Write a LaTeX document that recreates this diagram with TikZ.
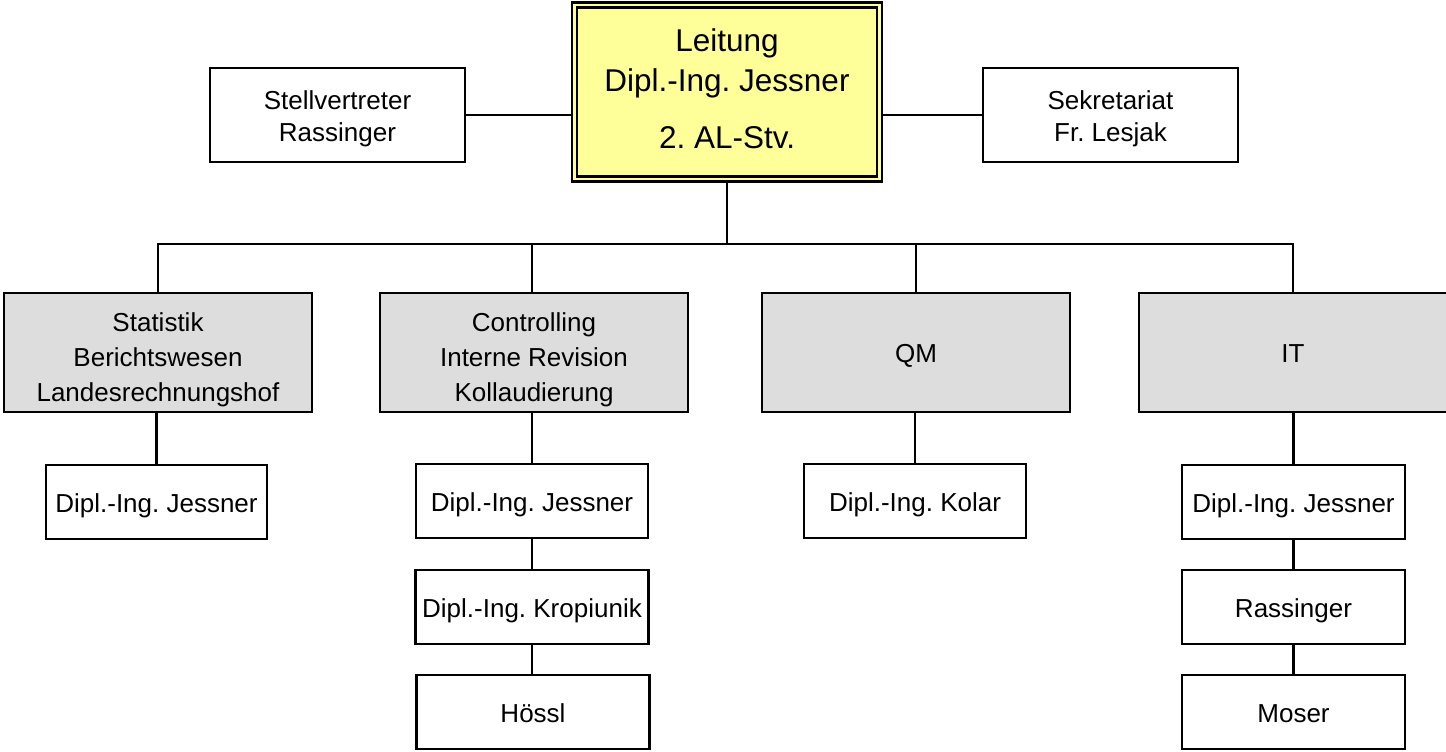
\documentclass[tikz,border=0pt]{standalone}
\usepackage{fontspec}
\setmainfont{Liberation Sans}
\frenchspacing
\definecolor{lgray}{HTML}{DDDDDD}
\definecolor{lyellow}{HTML}{FFFF99}
\begin{document}
\begin{tikzpicture}[x=1pt,y=-1pt,
  box/.style={draw=black, line width=2.7pt, fill=white, align=center, inner sep=0pt,
    font=\fontsize{26}{35}\selectfont, text height=24pt, text depth=4pt},
  txt/.style={align=center, inner sep=0pt, font=\fontsize{26}{35}\selectfont},
  unit/.style={box, fill=lgray, minimum width=308pt, minimum height=119pt},
  pers/.style={box, minimum height=74pt},
  side/.style={box, minimum width=255pt, minimum height=94pt},
  topbox/.style={draw=black, line width=2.7pt, double=lyellow, double distance=2.3pt,
    fill=lyellow, minimum width=305pt, minimum height=174pt},
  conn/.style={line width=2.7pt}]
\useasboundingbox (0,0) rectangle (1446,752);
\fill[white] (0,0) rectangle (1446,752);

\node[topbox, label={[txt, font=\fontsize{31.5}{40}\selectfont, yshift=3pt]center:{Leitung\\Dipl.-Ing. Jessner\\[17pt]2. AL-Stv.}}] (top) at (727,92) {};
\node[side, label={[txt, font=\fontsize{26}{32.5}\selectfont, yshift=-4pt]center:{Stellvertreter\\Rassinger}}] (stell) at (337.5,115) {};
\node[side, label={[txt, font=\fontsize{26}{32.5}\selectfont, yshift=-4pt]center:{Sekretariat\\Fr. Lesjak}}] (sek) at (1110.5,115) {};

\node[unit, label={[txt, yshift=-7pt]center:{Statistik\\Berichtswesen\\Landesrechnungshof}}] (stat) at (158,352.5) {};
\node[unit, label={[txt, yshift=-7pt]center:{Controlling\\Interne Revision\\Kollaudierung}}] (ctrl) at (534,352.5) {};
\node[unit] (qm) at (916,352.5) {QM};
\node[unit] (it) at (1293,352.5) {IT};

\node[pers, minimum width=221pt] (sj) at (156.5,502) {Dipl.-Ing. Jessner};
\node[pers, minimum width=232pt] (cj) at (532,501) {Dipl.-Ing. Jessner};
\node[pers, minimum width=233pt] (ck) at (532,607) {Dipl.-Ing. Kropiunik};
\node[pers, minimum width=233pt] (ch) at (533,712) {Hössl};
\node[pers, minimum width=222pt] (qk) at (915,501) {Dipl.-Ing. Kolar};
\node[pers, minimum width=223pt] (ij) at (1293.5,502) {Dipl.-Ing. Jessner};
\node[pers, minimum width=223pt] (ir) at (1293.5,607) {Rassinger};
\node[pers, minimum width=223pt] (im) at (1293.5,712) {Moser};

\coordinate (bus) at (727,244);

\draw[conn] (stell.east) -- (stell.east -| top.west);
\draw[conn] (sek.west) -- (sek.west -| top.east);
\draw[conn] (top.south) -- (bus);
\draw[conn] (stat.north) -- (stat.north |- bus) -- (it.north |- bus) -- (it.north);
\draw[conn] (cj |- ctrl.north) -- (cj |- bus);
\draw[conn] (qm.north) -- (qm.north |- bus);

\draw[conn] (sj |- stat.south) -- (sj.north);
\draw[conn] (cj |- ctrl.south) -- (cj.north);
\draw[conn] (cj.south) -- (ck.north);
\draw[conn] (ck.south) -- (ck |- ch.north);
\draw[conn] (qk |- qm.south) -- (qk.north);
\draw[conn] (ij |- it.south) -- (ij.north);
\draw[conn] (ij.south) -- (ir.north);
\draw[conn] (ir.south) -- (im.north);
\end{tikzpicture}
\end{document}
